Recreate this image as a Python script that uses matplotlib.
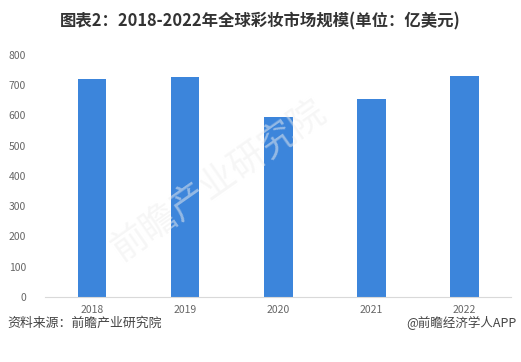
import matplotlib.pyplot as plt

plt.rcParams['font.family'] = ['Noto Sans CJK SC', 'DejaVu Sans']

# Data
years = ['2018', '2019', '2020', '2021', '2022']
market_size = [720, 728, 595, 655, 732]

fig = plt.figure(figsize=(5.21, 3.62), dpi=100)
ax = fig.add_axes([0.0873, 0.180, 0.893, 0.668])

ax.bar(years, market_size, width=0.31, color='#3c85db', zorder=2)

ax.set_ylim(0, 800)
ax.set_xlim(-0.5, 4.5)
ax.set_yticks(range(0, 801, 100))
ax.tick_params(axis='both', length=0, labelsize=7.5, colors='#666666')
ax.tick_params(axis='x', pad=6)
ax.tick_params(axis='y', pad=14)

for side in ['top', 'right', 'left']:
    ax.spines[side].set_visible(False)
ax.spines['bottom'].set_color('#d9d9d9')

# faint watermark
fig.text(0.42, 0.5, '前瞻产业研究院', fontsize=26, color='#eeeeee', rotation=35,
         ha='center', va='center', zorder=0, alpha=0.5)

fig.text(0.5, 0.94, '图表2：2018-2022年全球彩妆市场规模(单位：亿美元)',
         ha='center', va='center', fontsize=11.8, fontweight='bold', color='#333333')
fig.text(0.014, 0.107, '资料来源：前瞻产业研究院', ha='left', va='center',
         fontsize=9.3, color='#444444')
fig.text(0.992, 0.107, '@前瞻经济学人APP', ha='right', va='center',
         fontsize=9, color='#444444')

fig.savefig('out.png', dpi=100)
